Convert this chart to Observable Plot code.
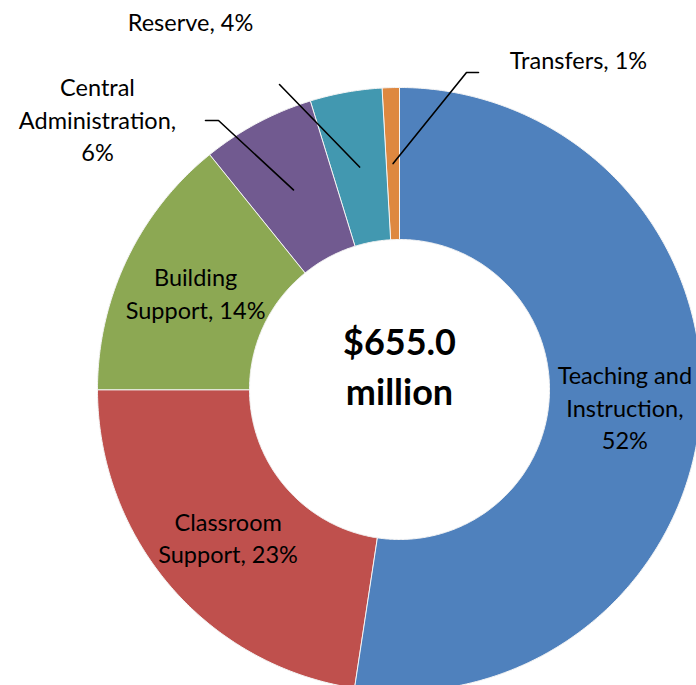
<!DOCTYPE html>
<html>
<head>
<meta charset="utf-8">
<script src="https://cdn.jsdelivr.net/npm/d3@7"></script>
<script src="https://cdn.jsdelivr.net/npm/@observablehq/plot@0.6"></script>
<style>
  html, body { margin: 0; padding: 0; background: #fff; overflow: hidden; }
  #chart svg { display: block; overflow: hidden; }
</style>
</head>
<body>
<div id="chart"></div>
<script>
// ---- data ----
const categories = ["Teaching and Instruction", "Classroom Support", "Building Support", "Central Administration", "Reserve", "Transfers"];
const shares = [52.4, 22.6, 14.2, 6.05, 3.85, 0.9];
const sliceLabels = ["Teaching and\nInstruction,\n52%", "Classroom\nSupport, 23%", "Building\nSupport, 14%", "Central\nAdministration,\n6%", "Reserve, 4%", "Transfers, 1%"];
const colors = ["#4F81BD", "#BF504D", "#8CA853", "#715A90", "#4298B0", "#DE8840"];
const centerLabel = "$655.0\nmillion";
const totalLabel = "$655.0 million";

// ---- layout (pixels) ----
const W = 696, H = 685;
const cx = 399, cy = 389;
const rOuter = 302, rInner = 150, rLabel = 226;
// outside labels: text anchor, leader start and elbow (offsets from centre, y up)
const outside = {
  "Central Administration": {text: [-302, 271], elbow: [-181, 269], start: [-194, 269]},
  "Reserve": {text: [-209, 369], elbow: null, start: [-120, 305]},
  "Transfers": {text: [179, 331], elbow: [67, 317], start: [79, 317]}
};

const total = d3.sum(shares);
let acc = 0;
const slices = categories.map((c, i) => {
  const a0 = acc / total * 2 * Math.PI;
  acc += shares[i];
  const a1 = acc / total * 2 * Math.PI;
  return {category: c, share: shares[i], label: sliceLabels[i], color: colors[i], a0, a1, mid: (a0 + a1) / 2};
});

// polygon points per slice
const poly = [];
for (const s of slices) {
  const n = Math.max(4, Math.ceil((s.a1 - s.a0) / (Math.PI / 360)));
  for (let k = 0; k <= n; k++) {
    const a = s.a0 + (s.a1 - s.a0) * k / n;
    poly.push({category: s.category, color: s.color, x: rOuter * Math.sin(a), y: rOuter * Math.cos(a)});
  }
  for (let k = n; k >= 0; k--) {
    const a = s.a0 + (s.a1 - s.a0) * k / n;
    poly.push({category: s.category, color: s.color, x: rInner * Math.sin(a), y: rInner * Math.cos(a)});
  }
}

const insideLabels = slices.filter(s => !outside[s.category]).map(s => ({
  text: s.label, x: rLabel * Math.sin(s.mid), y: rLabel * Math.cos(s.mid)
}));
const outsideLabels = slices.filter(s => outside[s.category]).map(s => ({
  text: s.label, x: outside[s.category].text[0], y: outside[s.category].text[1]
}));
const leaders = [];
for (const s of slices) {
  const o = outside[s.category];
  if (!o) continue;
  leaders.push({g: s.category, x: o.start[0], y: o.start[1]});
  if (o.elbow) leaders.push({g: s.category, x: o.elbow[0], y: o.elbow[1]});
  leaders.push({g: s.category, x: rLabel * Math.sin(s.mid), y: rLabel * Math.cos(s.mid)});
}

const font = "Lato, 'Open Sans', sans-serif";
const fs = 23.5;
const plot = Plot.plot({
  width: W, height: H, margin: 0,
  x: {domain: [-cx, W - cx], axis: null},
  y: {domain: [cy - H, cy], axis: null},
  style: {background: "#fff", fontFamily: font},
  marks: [
    Plot.line(poly, {x: "x", y: "y", z: "category", fill: "color", stroke: "#f4f4f4", strokeWidth: 1, curve: "linear-closed"}),
    Plot.line(leaders, {x: "x", y: "y", z: "g", stroke: "#000", strokeWidth: 1.6}),
    Plot.text(insideLabels, {x: "x", y: "y", text: "text", fontSize: fs, lineHeight: 32.5 / fs, fill: "#000", fontFamily: font}),
    Plot.text(outsideLabels, {x: "x", y: "y", text: "text", fontSize: fs, lineHeight: 32.5 / fs, fill: "#000", fontFamily: font}),
    Plot.text([centerLabel], {x: () => 0, y: () => 0, dy: -26, text: d => d, fontSize: 36, fontWeight: "bold", lineHeight: 50 / 36, fill: "#000", fontFamily: font})
  ]
});
plot.setAttribute("aria-label", totalLabel);
document.getElementById("chart").appendChild(plot);
</script>
</body>
</html>
